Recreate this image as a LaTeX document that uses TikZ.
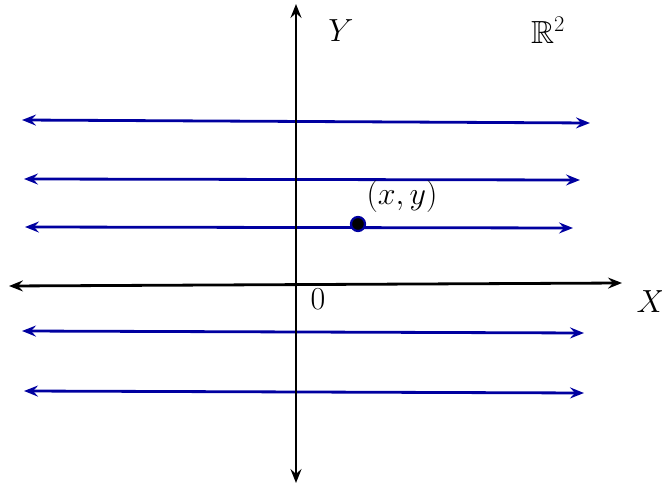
\RequirePackage{fix-cm}
\documentclass[tikz,border=0pt]{standalone}
\usepackage{amssymb}
\usetikzlibrary{arrows.meta}
\definecolor{lineblue}{RGB}{0,0,160}
\begin{document}
\begin{tikzpicture}[x=1pt,y=-1pt,
  axis/.style={line width=2.8pt,black,{Stealth[length=14pt,width=11pt,inset=5pt]}-{Stealth[length=14pt,width=11pt,inset=5pt]}},
  bline/.style={line width=2.8pt,lineblue,{Stealth[length=14pt,width=11pt,inset=5pt]}-{Stealth[length=14pt,width=11pt,inset=5pt]}},
  lab/.style={font=\fontsize{32}{36}\selectfont, inner sep=0pt}]
\useasboundingbox (0,0) rectangle (662,484);
% blue lines
\coordinate (l1a) at (22,120); \coordinate (l1b) at (590,123);
\coordinate (l2a) at (24,179); \coordinate (l2b) at (580,180);
\coordinate (l3a) at (25,227); \coordinate (l3b) at (573,228);
\coordinate (l4a) at (22,331); \coordinate (l4b) at (584,333);
\coordinate (l5a) at (24,391); \coordinate (l5b) at (584,393);
\draw[bline] (l1a) -- (l1b);
\draw[bline] (l2a) -- (l2b);
\draw[bline] (l3a) -- (l3b);
\draw[bline] (l4a) -- (l4b);
\draw[bline] (l5a) -- (l5b);
% axes
\coordinate (xa) at (9,286); \coordinate (xb) at (622,283);
\coordinate (ya) at (296,483); \coordinate (yb) at (296,4);
\draw[axis] (xa) -- (xb);
\draw[axis] (ya) -- (yb);
% point
\node[circle, fill=black, draw=lineblue, line width=2.2pt, minimum size=14pt, inner sep=0pt] (p) at (358,224) {};
\node[lab] (plab) at (402,197) {$(x,y)$};
\node[lab] (ylab) at (341,31) {$Y$};
\node[lab] (r2) at (548,30) {$\mathbb{R}^2$};
\node[lab] (zero) at (318,299) {$0$};
\node[lab] (xlab) at (651,302) {$X$};
\end{tikzpicture}
\end{document}
